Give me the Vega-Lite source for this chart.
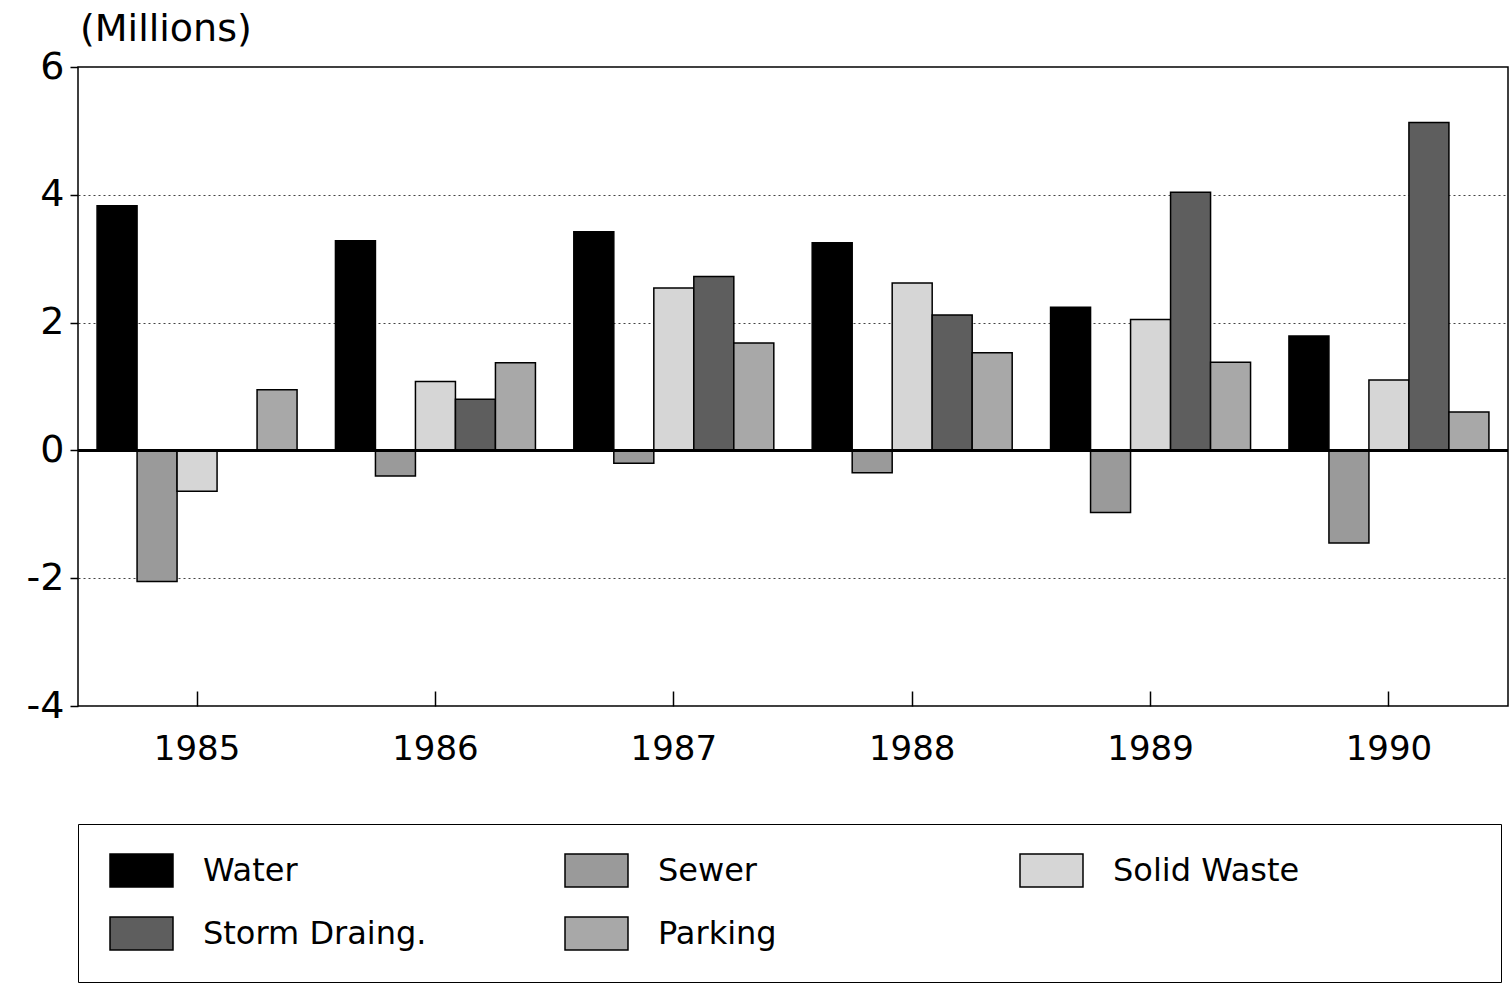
{
  "$schema": "https://vega.github.io/schema/vega-lite/v6.json",
  "width": 1430,
  "height": 639,
  "autosize": {"type": "none"},
  "padding": {"left": 78, "top": 67, "right": 3, "bottom": 282},
  "background": "white",
  "config": {
    "view": {"stroke": "black", "strokeWidth": 1.5},
    "font": "DejaVu Sans"
  },
  "title": {
    "text": "(Millions)",
    "anchor": "start",
    "frame": "group",
    "offset": -1,
    "dx": 2,
    "font": "DejaVu Sans",
    "fontSize": 38,
    "fontWeight": "normal",
    "color": "black"
  },
  "data": {
    "values": [
      {"year": "1985", "type": "Water", "value": 3.83},
      {"year": "1985", "type": "Sewer", "value": -2.05},
      {"year": "1985", "type": "Solid Waste", "value": -0.64},
      {"year": "1985", "type": "Parking", "value": 0.95},
      {"year": "1986", "type": "Water", "value": 3.28},
      {"year": "1986", "type": "Sewer", "value": -0.4},
      {"year": "1986", "type": "Solid Waste", "value": 1.08},
      {"year": "1986", "type": "Storm Draing.", "value": 0.8},
      {"year": "1986", "type": "Parking", "value": 1.37},
      {"year": "1987", "type": "Water", "value": 3.42},
      {"year": "1987", "type": "Sewer", "value": -0.2},
      {"year": "1987", "type": "Solid Waste", "value": 2.54},
      {"year": "1987", "type": "Storm Draing.", "value": 2.72},
      {"year": "1987", "type": "Parking", "value": 1.68},
      {"year": "1988", "type": "Water", "value": 3.25},
      {"year": "1988", "type": "Sewer", "value": -0.35},
      {"year": "1988", "type": "Solid Waste", "value": 2.62},
      {"year": "1988", "type": "Storm Draing.", "value": 2.12},
      {"year": "1988", "type": "Parking", "value": 1.53},
      {"year": "1989", "type": "Water", "value": 2.24},
      {"year": "1989", "type": "Sewer", "value": -0.97},
      {"year": "1989", "type": "Solid Waste", "value": 2.05},
      {"year": "1989", "type": "Storm Draing.", "value": 4.04},
      {"year": "1989", "type": "Parking", "value": 1.38},
      {"year": "1990", "type": "Water", "value": 1.79},
      {"year": "1990", "type": "Sewer", "value": -1.45},
      {"year": "1990", "type": "Solid Waste", "value": 1.1},
      {"year": "1990", "type": "Storm Draing.", "value": 5.13},
      {"year": "1990", "type": "Parking", "value": 0.6}
    ]
  },
  "encoding": {
    "y": {
      "field": "value",
      "type": "quantitative",
      "scale": {"domain": [-4, 6], "nice": false, "zero": false},
      "axis": {
        "title": null,
        "values": [-4, -2, 0, 2, 4, 6],
        "labelExpr": "datum.value < 0 ? '-' + abs(datum.value) : '' + datum.value",
        "domain": false,
        "grid": true,
        "gridColor": "#444444",
        "gridDash": [2, 3],
        "gridWidth": 1,
        "ticks": true,
        "tickSize": 8,
        "tickColor": "black",
        "tickWidth": 1.5,
        "labelFont": "DejaVu Sans",
        "labelFontSize": 38,
        "labelColor": "black",
        "labelPadding": 6
      }
    }
  },
  "layer": [
    {
      "mark": {"type": "bar", "stroke": "black", "strokeWidth": 1.5, "opacity": 1},
      "encoding": {
        "x": {
          "field": "year",
          "type": "nominal",
          "scale": {"paddingInner": 0.161, "paddingOuter": 0.08},
          "axis": {
            "title": null,
            "labelAngle": 0,
            "domain": false,
            "ticks": true,
            "tickSize": -15,
            "tickColor": "black",
            "tickWidth": 1.5,
            "labelFont": "DejaVu Sans",
            "labelFontSize": 34,
            "labelColor": "black",
            "labelPadding": 41
          }
        },
        "xOffset": {
          "field": "type",
          "type": "nominal",
          "scale": {"domain": ["Water", "Sewer", "Solid Waste", "Storm Draing.", "Parking"], "paddingInner": 0, "paddingOuter": 0}
        },
        "fill": {
          "field": "type",
          "type": "nominal",
          "scale": {
            "domain": ["Water", "Sewer", "Solid Waste", "Storm Draing.", "Parking"],
            "range": ["#000000", "#9a9a9a", "#d6d6d6", "#5e5e5e", "#a8a8a8"]
          },
          "legend": {
            "title": null,
            "orient": "none",
            "legendX": 0,
            "legendY": 757,
            "direction": "horizontal",
            "columns": 3,
            "gridAlign": "all",
            "columnPadding": 0,
            "rowPadding": 24,
            "padding": 29,
            "strokeColor": "black",
            "symbolType": "M-1.909,-1H1.909V1H-1.909Z M25.28,0",
            "symbolSize": 1089,
            "symbolStrokeColor": "black",
            "symbolStrokeWidth": 1.5,
            "symbolOffset": 17,
            "symbolOpacity": 1,
            "labelFont": "DejaVu Sans",
            "labelFontSize": 32,
            "labelColor": "black",
            "labelOffset": 44,
            "labelLimit": 400
          }
        }
      }
    },
    {
      "mark": {"type": "rule", "color": "black", "strokeWidth": 1.5},
      "encoding": {"y": {"datum": 0}}
    }
  ]
}
